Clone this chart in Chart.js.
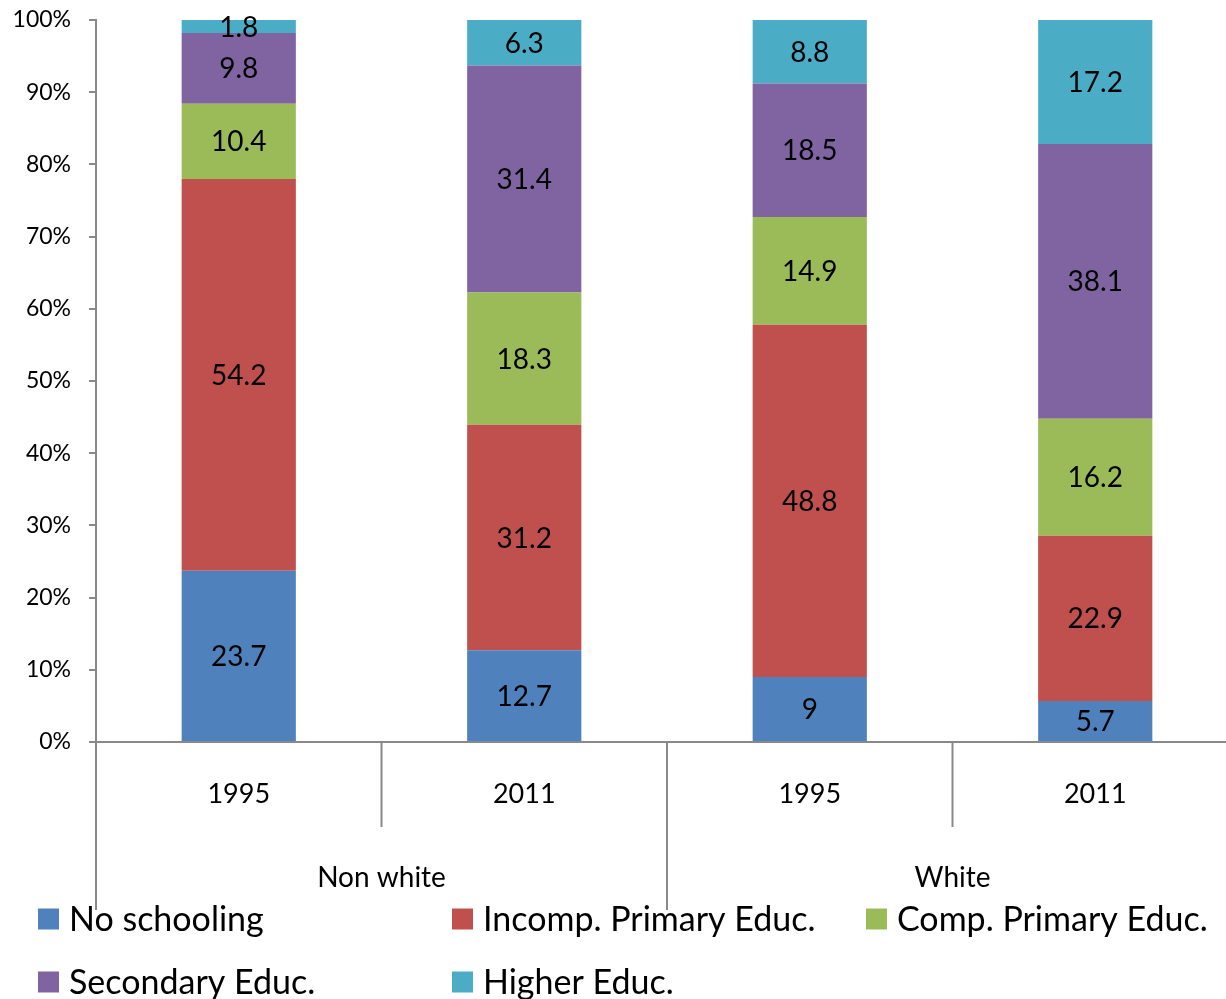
<!DOCTYPE html>
<html>
<head>
<meta charset="utf-8">
<script src="https://cdn.jsdelivr.net/npm/chart.js@4.4.1/dist/chart.umd.min.js"></script>
<style>
  html, body { margin: 0; padding: 0; background: #fff; overflow: hidden; }
  #wrap { width: 1238px; height: 999px; }
</style>
</head>
<body>
<div id="wrap"><canvas id="chart" width="1238" height="999"></canvas></div>
<script>
// Data
const years = ['1995', '2011', '1995', '2011'];
const groups = ['Non white', 'White'];
const seriesNames = ['No schooling', 'Incomp. Primary Educ.', 'Comp. Primary Educ.', 'Secondary Educ.', 'Higher Educ.'];
const noSchooling = [23.7, 12.7, 9, 5.7];
const incompPrimary = [54.2, 31.2, 48.8, 22.9];
const compPrimary = [10.4, 18.3, 14.9, 16.2];
const secondary = [9.8, 31.4, 18.5, 38.1];
const higherEduc = [1.8, 6.3, 8.8, 17.2];
const yTickMax = 100;
const yTickStep = 10;

const colors = ['#4F81BD', '#C0504D', '#9BBB59', '#8064A2', '#4BACC6'];
const axisColor = '#898989';
const FONT = 'Lato, "Open Sans", sans-serif';

const seriesValues = [noSchooling, incompPrimary, compPrimary, secondary, higherEduc];
// 100% stacked: each column is scaled to its own total
const totals = years.map((_, i) => seriesValues.reduce((s, arr) => s + arr[i], 0));

const datasets = seriesValues.map((vals, k) => ({
  label: seriesNames[k],
  raw: vals,
  data: vals.map((v, i) => v / totals[i] * 100),
  backgroundColor: colors[k],
  borderWidth: 0,
  barPercentage: 0.4,
  categoryPercentage: 1
}));

// Labels, category separators, group names and legend
const decorations = {
  id: 'decorations',
  afterDatasetsDraw(chart) {
    const ctx = chart.ctx;
    ctx.save();
    ctx.font = '28px ' + FONT;
    ctx.fillStyle = '#000';
    ctx.textAlign = 'center';
    ctx.textBaseline = 'middle';
    chart.data.datasets.forEach((ds, k) => {
      const meta = chart.getDatasetMeta(k);
      meta.data.forEach((bar, i) => {
        const yc = (bar.y + bar.base) / 2;
        ctx.fillText(String(ds.raw[i]), bar.x, yc + 1);
      });
    });
    ctx.restore();
  },
  afterDraw(chart) {
    const ctx = chart.ctx;
    const x = chart.scales.x;
    const area = chart.chartArea;
    const n = years.length;
    const bounds = [];
    for (let i = 0; i <= n; i++) {
      if (i === 0) bounds.push(area.left);
      else if (i === n) bounds.push(area.right);
      else bounds.push((x.getPixelForValue(i - 1) + x.getPixelForValue(i)) / 2);
    }
    ctx.save();
    ctx.strokeStyle = axisColor;
    ctx.lineWidth = 2;
    bounds.forEach((bx, i) => {
      const isGroupEdge = i % 2 === 0;
      ctx.beginPath();
      ctx.moveTo(bx, area.bottom);
      ctx.lineTo(bx, isGroupEdge ? 910 : 827);
      ctx.stroke();
    });
    // group labels
    ctx.font = '28px ' + FONT;
    ctx.fillStyle = '#000';
    ctx.textAlign = 'center';
    ctx.textBaseline = 'middle';
    groups.forEach((g, j) => {
      ctx.fillText(g, bounds[j * 2 + 1], 878);
    });
    // legend
    ctx.font = '34px ' + FONT;
    ctx.textAlign = 'left';
    chart.data.datasets.forEach((ds, k) => {
      const col = k % 3;
      const row = Math.floor(k / 3);
      const lx = 38 + col * 414;
      const ly = 919 + row * 63;
      ctx.fillStyle = ds.backgroundColor;
      ctx.fillRect(lx, ly - 10.5, 21, 21);
      ctx.fillStyle = '#000';
      ctx.fillText(ds.label, lx + 31, ly + 1);
    });
    ctx.restore();
  }
};

new Chart(document.getElementById('chart'), {
  type: 'bar',
  data: { labels: years, datasets },
  options: {
    responsive: false,
    animation: false,
    layout: { padding: { top: 20, right: 0, bottom: 0, left: 0 } },
    plugins: {
      legend: { display: false },
      tooltip: { enabled: false }
    },
    scales: {
      x: {
        stacked: true,
        afterFit: (scale) => { scale.height = 257; },
        grid: { display: false, drawTicks: false },
        border: { display: true, color: axisColor, width: 2 },
        ticks: { color: '#000', font: { family: FONT, size: 27 }, padding: 36 }
      },
      y: {
        stacked: true,
        min: 0,
        max: yTickMax,
        afterFit: (scale) => {
          scale.width = 96;
          scale.paddingTop = 0;
          scale.paddingBottom = 0;
        },
        grid: { drawOnChartArea: false, drawTicks: true, tickLength: 7, color: axisColor, lineWidth: 2 },
        border: { display: true, color: axisColor, width: 2 },
        ticks: {
          stepSize: yTickStep,
          color: '#000',
          font: { family: FONT, size: 23 },
          padding: 18,
          callback: (v) => v + '%'
        }
      }
    }
  },
  plugins: [decorations]
});
</script>
</body>
</html>
